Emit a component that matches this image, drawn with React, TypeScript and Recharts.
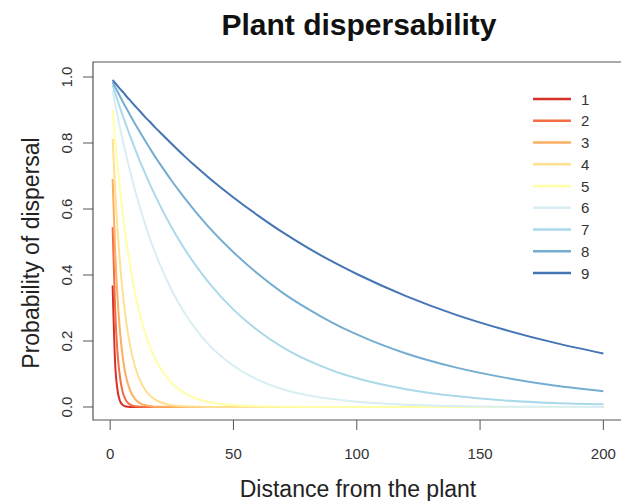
import { LineChart, Line, XAxis, YAxis, ReferenceArea } from 'recharts'

// distance from the plant (x) and dispersal probability for each of the 9 curves
const distance = [1, 2, 3, 4, 5, 6, 7, 8, 10, 12, 14, 16, 18, 20, 25, 30, 35, 40, 50, 60, 70, 80, 90, 100, 120, 140, 160, 180, 200]

const p1 = [0.368, 0.135, 0.05, 0.018, 0.007, 0.002, 0.001, 0, 0, 0, 0, 0, 0, 0, 0, 0, 0, 0, 0, 0, 0, 0, 0, 0, 0, 0, 0, 0, 0]
const p2 = [0.545, 0.298, 0.162, 0.089, 0.048, 0.026, 0.014, 0.008, 0.002, 0.001, 0, 0, 0, 0, 0, 0, 0, 0, 0, 0, 0, 0, 0, 0, 0, 0, 0, 0, 0]
const p3 = [0.691, 0.477, 0.329, 0.227, 0.157, 0.108, 0.075, 0.052, 0.025, 0.012, 0.006, 0.003, 0.001, 0.001, 0, 0, 0, 0, 0, 0, 0, 0, 0, 0, 0, 0, 0, 0, 0]
const p4 = [0.812, 0.659, 0.535, 0.435, 0.353, 0.287, 0.233, 0.189, 0.125, 0.082, 0.054, 0.036, 0.024, 0.016, 0.005, 0.002, 0.001, 0, 0, 0, 0, 0, 0, 0, 0, 0, 0, 0, 0]
const p5 = [0.9, 0.81, 0.729, 0.656, 0.591, 0.532, 0.479, 0.431, 0.349, 0.283, 0.229, 0.186, 0.15, 0.122, 0.072, 0.043, 0.025, 0.015, 0.005, 0.002, 0.001, 0, 0, 0, 0, 0, 0, 0, 0]
const p6 = [0.959, 0.92, 0.882, 0.846, 0.812, 0.779, 0.747, 0.717, 0.659, 0.607, 0.558, 0.513, 0.472, 0.435, 0.353, 0.287, 0.233, 0.189, 0.125, 0.082, 0.054, 0.036, 0.024, 0.016, 0.007, 0.003, 0.001, 0.001, 0]
const p7 = [0.976, 0.952, 0.929, 0.907, 0.885, 0.864, 0.843, 0.823, 0.784, 0.746, 0.711, 0.677, 0.645, 0.614, 0.543, 0.481, 0.426, 0.377, 0.295, 0.231, 0.181, 0.142, 0.111, 0.087, 0.054, 0.033, 0.02, 0.012, 0.008]
const p8 = [0.985, 0.97, 0.956, 0.941, 0.927, 0.913, 0.899, 0.886, 0.859, 0.834, 0.809, 0.785, 0.761, 0.739, 0.685, 0.635, 0.588, 0.545, 0.469, 0.403, 0.346, 0.298, 0.256, 0.22, 0.162, 0.12, 0.089, 0.065, 0.048]
const p9 = [0.991, 0.982, 0.973, 0.964, 0.956, 0.947, 0.938, 0.93, 0.913, 0.897, 0.88, 0.865, 0.849, 0.834, 0.797, 0.761, 0.727, 0.695, 0.635, 0.58, 0.529, 0.483, 0.441, 0.403, 0.336, 0.28, 0.234, 0.195, 0.162]

const curveNames = ['1', '2', '3', '4', '5', '6', '7', '8', '9']
const curveColors = ['#d73027', '#f46d43', '#fdae61', '#fee090', '#ffffa8', '#d8eef5', '#abd9e9', '#74add1', '#4575b4']

const xTicks = [0, 50, 100, 150, 200]
const yTicks = [0, 0.2, 0.4, 0.6, 0.8, 1]

const curves = [p1, p2, p3, p4, p5, p6, p7, p8, p9]

const data = distance.map((d, i) => {
  const row: Record<string, number> = { d }
  curves.forEach((c, k) => {
    row[`c${k + 1}`] = c[i]
  })
  return row
})

const FONT = '"Liberation Sans", Arial, Helvetica, sans-serif'

// R-style y tick labels, rotated to run along the axis
const YTick = ({ x, y, payload }: any) => (
  <text
    x={0}
    y={0}
    transform={`translate(${x},${y}) rotate(-90)`}
    textAnchor="middle"
    fontSize={15}
    fill="#333"
    fontFamily={FONT}
  >
    {Number(payload.value).toFixed(1)}
  </text>
)

export default function App() {
  return (
    <div style={{ position: 'relative', width: 621, height: 501, overflow: 'hidden', background: '#fff' }}>
      <style>{'body{margin:0}'}</style>
      <LineChart
        width={640}
        height={501}
        data={data}
        margin={{ top: 62, right: 17, bottom: 31, left: 43 }}
      >
        <XAxis
          dataKey="d"
          type="number"
          domain={[-6.96, 207.96]}
          ticks={xTicks}
          allowDataOverflow
          height={50}
          axisLine={false}
          tickSize={10}
          tickMargin={18}
          tickLine={{ stroke: '#555' }}
          tick={{ fontSize: 15, fill: '#333', fontFamily: FONT }}
        />
        <YAxis
          type="number"
          domain={[-0.0394, 1.0455]}
          ticks={yTicks}
          allowDataOverflow
          width={50}
          axisLine={false}
          tickSize={10}
          tickMargin={10.6}
          tickLine={{ stroke: '#555' }}
          tick={<YTick />}
        />
        <ReferenceArea
          x1={-6.96}
          x2={207.96}
          y1={-0.0394}
          y2={1.0455}
          fill="none"
          stroke="#555"
          strokeWidth={1.2}
          ifOverflow="visible"
        />
        {curveNames.map((name, k) => (
          <Line
            key={name}
            type="monotone"
            dataKey={`c${k + 1}`}
            name={name}
            stroke={curveColors[k]}
            strokeWidth={2}
            dot={false}
            isAnimationActive={false}
          />
        ))}
      </LineChart>
      <svg
        width={621}
        height={501}
        style={{ position: 'absolute', left: 0, top: 0, pointerEvents: 'none' }}
        fontFamily={FONT}
      >
        <text x={359} y={35} textAnchor="middle" fontSize={30} fontWeight="bold" fill="#111">
          Plant dispersability
        </text>
        <text x={358} y={497} textAnchor="middle" fontSize={23} fill="#222">
          Distance from the plant
        </text>
        <text
          transform="translate(39,253) rotate(-90)"
          textAnchor="middle"
          fontSize={23}
          fill="#222"
        >
          Probability of dispersal
        </text>
        {curveNames.map((name, k) => (
          <g key={name}>
            <line x1={533} x2={571} y1={99 + k * 21.75} y2={99 + k * 21.75} stroke={curveColors[k]} strokeWidth={2.4} />
            <text x={581} y={99 + k * 21.75 + 5.5} fontSize={15} fill="#333">
              {name}
            </text>
          </g>
        ))}
      </svg>
    </div>
  )
}
